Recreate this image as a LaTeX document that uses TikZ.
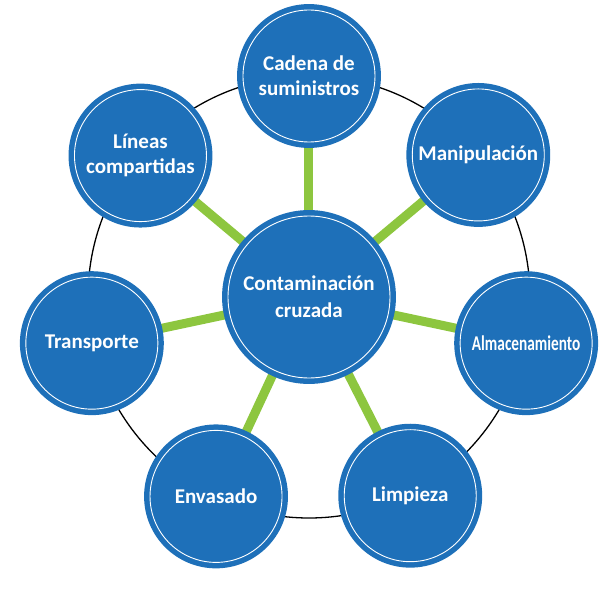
\documentclass[tikz,border=0pt]{standalone}
\usepackage{fontspec}
\setmainfont{Carlito}
\usepackage{xcolor}
\usetikzlibrary{backgrounds}
\definecolor{topicblue}{RGB}{30,112,185}
\definecolor{linkgreen}{RGB}{141,198,63}

\begin{document}
\begin{tikzpicture}[x=1pt, y=1pt,
  topic/.style={circle, fill=topicblue, draw=topicblue, double=white, double distance=0.9pt, line width=5.5pt,
    minimum size=132pt, inner sep=0pt, align=center, text=white, font=\fontsize{21}{25}\selectfont\bfseries},
  hub/.style={topic, minimum size=162pt, font=\fontsize{21}{27}\selectfont\bfseries},
  link/.style={draw=linkgreen, line width=9pt}]
   \useasboundingbox (-309,-314) rectangle (302,297);

   \node[hub] (cruzada) at (0,0) {Contaminación\\cruzada};
   \node[topic] (cadena)     at (90:221)   {Cadena de\\suministros};
   \node[topic] (manip)      at (40:221)   {Manipulación};
   \node[topic] (almacen)    at (-12:222)  {\scalebox{0.73}[1]{Almacenamiento}};
   \node[topic] (limpieza)   at (-63:223)  {Limpieza};
   \node[topic] (envasado)   at (-115:220) {Envasado};
   \node[topic] (transporte) at (-168:222) {Transporte};
   \node[topic] (lineas)     at (140:220)  {Líneas\\compartidas};

   \begin{scope}[on background layer]
   % anillo exterior
   \draw[line width=1.3pt] (cruzada.center) circle[radius=221];
   \path[link]
    (cruzada) edge (cadena)
    (cruzada) edge (manip)
    (cruzada) edge (almacen)
    (cruzada) edge (limpieza)
    (cruzada) edge (envasado)
    (cruzada) edge (transporte)
    (cruzada) edge (lineas);
   \end{scope}
\end{tikzpicture}
\end{document}
